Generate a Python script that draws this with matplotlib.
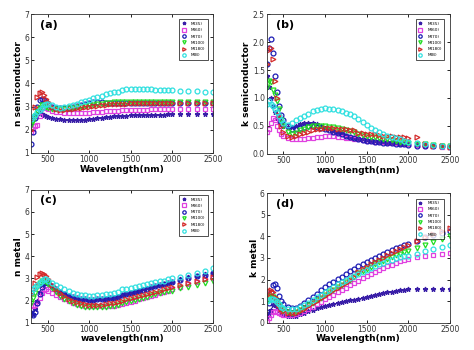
import matplotlib
matplotlib.use('Agg')
import matplotlib.pyplot as plt
import numpy as np

# wavelength grid (nm): dense part, part after the gap, sparse tail
wl_short = [300, 325, 350, 375, 400, 425, 450, 475, 500, 550, 600, 650, 700,
            750, 800, 850, 900, 950, 1000, 1050, 1100, 1150, 1200, 1250,
            1300, 1350]
wl_long = [1400, 1450, 1500, 1550, 1600, 1650, 1700, 1750, 1800, 1850, 1900,
           1950, 2000]
wl_tail = [2100, 2200, 2300, 2400, 2500]
wavelength = wl_short + wl_long + wl_tail

labels = ['M(35)', 'M(60)', 'M(70)', 'M(100)', 'M(180)', 'M(B)']

# (a) n semiconductor
a_m35 = [2.2, 2.45, 2.6, 2.7, 2.72, 2.7, 2.65, 2.6, 2.56, 2.5, 2.47, 2.45,
         2.43, 2.42, 2.42, 2.42, 2.43, 2.44, 2.46, 2.48, 2.5, 2.52, 2.54,
         2.56, 2.58, 2.59,
         2.6, 2.61, 2.62, 2.62, 2.63, 2.64, 2.64, 2.65, 2.65, 2.66, 2.66,
         2.67, 2.67,
         2.68, 2.68, 2.68, 2.68, 2.68]
a_m60 = [1.9, 2.05, 2.15, 2.2, 2.6, 2.95, 3.0, 2.95, 2.9, 2.82, 2.78, 2.75,
         2.73, 2.72, 2.72, 2.72, 2.72, 2.73, 2.74, 2.75, 2.77, 2.78, 2.8,
         2.81, 2.82, 2.83,
         2.84, 2.85, 2.85, 2.86, 2.86, 2.87, 2.87, 2.88, 2.88, 2.88, 2.89,
         2.89, 2.89,
         2.88, 2.88, 2.88, 2.88, 2.88]
a_m70 = [1.4, 1.9, 2.5, 3.0, 3.3, 3.35, 3.3, 3.2, 3.1, 3.0, 2.95, 2.93,
         2.93, 2.95, 2.98, 3.02, 3.07, 3.12, 3.17, 3.2, 3.2, 3.19, 3.17,
         3.16, 3.15, 3.15,
         3.15, 3.15, 3.15, 3.15, 3.15, 3.15, 3.15, 3.15, 3.15, 3.15, 3.15,
         3.15, 3.15,
         3.17, 3.17, 3.17, 3.17, 3.17]
a_m100 = [2.2, 2.4, 2.6, 2.8, 2.95, 3.05, 3.05, 3.0, 2.95, 2.9, 2.88, 2.88,
          2.9, 2.92, 2.95, 2.98, 3.0, 3.03, 3.06, 3.08, 3.1, 3.12, 3.14,
          3.16, 3.18, 3.2,
          3.22, 3.22, 3.22, 3.22, 3.22, 3.22, 3.22, 3.22, 3.22, 3.22, 3.22,
          3.22, 3.22,
          3.2, 3.2, 3.2, 3.2, 3.2]
a_m180 = [2.0, 2.5, 3.0, 3.4, 3.6, 3.62, 3.5, 3.35, 3.2, 3.0, 2.9, 2.87,
          2.87, 2.88, 2.9, 2.93, 2.96, 2.98, 3.0, 3.02, 3.04, 3.06, 3.08,
          3.1, 3.12, 3.13,
          3.13, 3.13, 3.14, 3.14, 3.14, 3.14, 3.14, 3.15, 3.15, 3.15, 3.15,
          3.15, 3.15,
          3.15, 3.15, 3.15, 3.15, 3.15]
a_mb = [2.45, 2.55, 2.65, 2.75, 2.85, 2.95, 3.05, 3.1, 3.12, 3.05, 2.98,
        2.96, 2.98, 3.02, 3.06, 3.12, 3.18, 3.24, 3.3, 3.36, 3.42, 3.48,
        3.53, 3.58, 3.62, 3.65,
        3.72, 3.74, 3.75, 3.75, 3.75, 3.75, 3.74, 3.74, 3.73, 3.72, 3.72,
        3.71, 3.7,
        3.68, 3.67, 3.66, 3.65, 3.65]

# (b) k semiconductor
b_m35 = [1.4, 1.2, 1.0, 0.85, 0.75, 0.65, 0.58, 0.53, 0.5, 0.48, 0.48, 0.5,
         0.53, 0.55, 0.56, 0.55, 0.53, 0.5, 0.47, 0.44, 0.41, 0.38, 0.35,
         0.33, 0.31, 0.29,
         0.27, 0.26, 0.25, 0.24, 0.23, 0.22, 0.21, 0.2, 0.19, 0.19, 0.18,
         0.17, 0.17,
         0.17, 0.16, 0.15, 0.14, 0.14]
b_m60 = [0.4, 0.45, 0.55, 0.65, 0.6, 0.5, 0.42, 0.36, 0.32, 0.28, 0.26,
         0.26, 0.26, 0.27, 0.28, 0.29, 0.3, 0.31, 0.32, 0.32, 0.32, 0.31,
         0.3, 0.29, 0.28, 0.27,
         0.26, 0.25, 0.24, 0.23, 0.22, 0.21, 0.21, 0.2, 0.19, 0.19, 0.18,
         0.18, 0.17,
         0.16, 0.15, 0.14, 0.13, 0.13]
b_m70 = [1.6, 1.9, 2.05, 1.8, 1.4, 1.1, 0.85, 0.7, 0.6, 0.5, 0.45, 0.45,
         0.47, 0.48, 0.5, 0.5, 0.48, 0.47, 0.45, 0.42, 0.4, 0.37, 0.35,
         0.32, 0.3, 0.28,
         0.26, 0.25, 0.24, 0.23, 0.22, 0.21, 0.2, 0.19, 0.19, 0.18, 0.17,
         0.17, 0.16,
         0.15, 0.15, 0.14, 0.14, 0.13]
b_m100 = [1.2, 1.3, 1.28, 1.15, 1.05, 0.95, 0.8, 0.6, 0.5, 0.4, 0.36, 0.38,
          0.42, 0.45, 0.48, 0.5, 0.5, 0.5, 0.5, 0.49, 0.48, 0.46, 0.44,
          0.42, 0.41, 0.4,
          0.36, 0.34, 0.33, 0.31, 0.3, 0.29, 0.27, 0.26, 0.25, 0.24, 0.22,
          0.21, 0.2,
          0.18, 0.17, 0.16, 0.15, 0.14]
b_m180 = [1.6, 1.85, 1.9, 1.7, 1.3, 1.0, 0.7, 0.5, 0.4, 0.32, 0.3, 0.32,
          0.35, 0.38, 0.4, 0.42, 0.44, 0.45, 0.46, 0.46, 0.46, 0.45, 0.45,
          0.44, 0.43, 0.42,
          0.38, 0.37, 0.36, 0.35, 0.35, 0.34, 0.33, 0.32, 0.32, 0.31, 0.3,
          0.3, 0.29,
          0.3, 0.17, 0.15, 0.14, 0.13]
b_mb = [0.9, 0.95, 0.9, 0.85, 0.8, 0.75, 0.68, 0.6, 0.55, 0.52, 0.55, 0.6,
        0.65, 0.68, 0.72, 0.76, 0.79, 0.81, 0.82, 0.81, 0.8, 0.78, 0.76,
        0.74, 0.72, 0.68,
        0.62, 0.57, 0.52, 0.47, 0.43, 0.39, 0.36, 0.33, 0.3, 0.28, 0.26,
        0.24, 0.22,
        0.2, 0.18, 0.16, 0.15, 0.14]

# (c) n metal
c_m35 = [1.5, 1.4, 1.6, 2.0, 2.4, 2.7, 2.85, 2.85, 2.8, 2.65, 2.5, 2.38,
         2.28, 2.2, 2.14, 2.1, 2.07, 2.05, 2.04, 2.04, 2.05, 2.06, 2.08,
         2.1, 2.12, 2.15,
         2.25, 2.3, 2.35, 2.4, 2.45, 2.5, 2.55, 2.6, 2.65, 2.7, 2.75, 2.8,
         2.85,
         2.95, 3.05, 3.12, 3.18, 3.25]
c_m60 = [1.8, 1.75, 1.8, 1.9, 2.1, 2.35, 2.48, 2.5, 2.45, 2.35, 2.25, 2.15,
         2.05, 1.97, 1.9, 1.85, 1.8, 1.77, 1.75, 1.74, 1.74, 1.74, 1.75,
         1.76, 1.77, 1.78,
         1.85, 1.9, 1.95, 2.0, 2.05, 2.1, 2.15, 2.2, 2.27, 2.33, 2.39,
         2.45, 2.5,
         2.6, 2.75, 2.85, 2.95, 3.0]
c_m70 = [1.4, 1.35, 1.5, 1.9, 2.3, 2.6, 2.8, 2.85, 2.8, 2.65, 2.5, 2.38,
         2.28, 2.2, 2.14, 2.1, 2.07, 2.05, 2.04, 2.04, 2.05, 2.06, 2.08,
         2.1, 2.12, 2.14,
         2.24, 2.29, 2.34, 2.39, 2.44, 2.49, 2.54, 2.59, 2.64, 2.69, 2.74,
         2.79, 2.84,
         2.93, 3.02, 3.1, 3.17, 3.22]
c_m100 = [1.9, 2.1, 2.35, 2.6, 2.8, 2.88, 2.9, 2.85, 2.75, 2.55, 2.38, 2.22,
          2.08, 1.97, 1.88, 1.81, 1.76, 1.72, 1.7, 1.69, 1.7, 1.71, 1.73,
          1.75, 1.77, 1.8,
          1.9, 1.95, 1.99, 2.03, 2.08, 2.13, 2.18, 2.23, 2.28, 2.33, 2.37,
          2.41, 2.45,
          2.55, 2.6, 2.7, 2.8, 2.9]
c_m180 = [2.3, 2.5, 2.8, 3.05, 3.18, 3.22, 3.2, 3.1, 2.95, 2.7, 2.5, 2.33,
          2.2, 2.09, 2.0, 1.93, 1.87, 1.83, 1.8, 1.79, 1.8, 1.82, 1.85,
          1.88, 1.91, 1.95,
          2.0, 2.05, 2.1, 2.15, 2.2, 2.25, 2.3, 2.35, 2.4, 2.45, 2.5, 2.55,
          2.6,
          2.7, 2.8, 2.9, 2.98, 3.05]
c_mb = [2.4, 2.5, 2.6, 2.7, 2.8, 2.88, 2.95, 2.95, 2.9, 2.8, 2.7, 2.6, 2.5,
        2.42, 2.35, 2.3, 2.26, 2.23, 2.22, 2.22, 2.23, 2.25, 2.28, 2.31,
        2.35, 2.4,
        2.5, 2.54, 2.58, 2.62, 2.66, 2.7, 2.74, 2.78, 2.82, 2.86, 2.9, 2.95,
        3.0,
        3.05, 3.15, 3.25, 3.35, 3.45]

# (d) k metal
d_m35 = [0.3, 0.45, 0.6, 0.8, 0.85, 0.75, 0.6, 0.45, 0.35, 0.3, 0.3, 0.33,
         0.38, 0.45, 0.52, 0.6, 0.67, 0.73, 0.78, 0.83, 0.88, 0.92, 0.96,
         1.0, 1.03, 1.06,
         1.12, 1.16, 1.2, 1.24, 1.28, 1.32, 1.36, 1.4, 1.44, 1.47, 1.5,
         1.53, 1.55,
         1.55, 1.56, 1.56, 1.56, 1.56]
d_m60 = [0.1, 0.2, 0.35, 0.5, 0.55, 0.5, 0.45, 0.4, 0.37, 0.35, 0.36, 0.4,
         0.47, 0.55, 0.65, 0.75, 0.86, 0.97, 1.08, 1.2, 1.3, 1.42, 1.52,
         1.63, 1.73, 1.83,
         1.95, 2.05, 2.15, 2.25, 2.35, 2.44, 2.53, 2.61, 2.69, 2.77, 2.84,
         2.9, 2.95,
         3.05, 3.1, 3.15, 3.2, 3.25]
d_m70 = [0.5, 0.9, 1.4, 1.75, 1.8, 1.6, 1.25, 1.0, 0.85, 0.72, 0.68, 0.7,
         0.78, 0.9, 1.05, 1.2, 1.35, 1.5, 1.65, 1.78, 1.9, 2.02, 2.14, 2.26,
         2.38, 2.48,
         2.62, 2.72, 2.82, 2.92, 3.02, 3.11, 3.2, 3.29, 3.38, 3.46, 3.53,
         3.6, 3.65,
         3.8, 3.95, 4.05, 4.15, 4.25]
d_m100 = [1.0, 1.2, 1.25, 1.2, 1.1, 0.95, 0.8, 0.65, 0.55, 0.48, 0.46, 0.5,
          0.58, 0.68, 0.8, 0.92, 1.04, 1.16, 1.28, 1.4, 1.52, 1.64, 1.76,
          1.88, 2.0, 2.12,
          2.3, 2.4, 2.5, 2.6, 2.7, 2.79, 2.88, 2.97, 3.05, 3.13, 3.2, 3.26,
          3.32,
          3.45, 3.6, 3.75, 3.9, 4.0]
d_m180 = [1.3, 1.45, 1.5, 1.4, 1.2, 1.0, 0.8, 0.62, 0.52, 0.45, 0.44, 0.47,
          0.55, 0.65, 0.77, 0.9, 1.02, 1.14, 1.26, 1.38, 1.5, 1.62, 1.74,
          1.86, 1.98, 2.1,
          2.35, 2.47, 2.58, 2.7, 2.81, 2.92, 3.02, 3.12, 3.22, 3.32, 3.42,
          3.5, 3.58,
          3.8, 3.95, 4.1, 4.25, 4.4]
d_mb = [1.0, 1.05, 1.1, 1.1, 1.05, 0.95, 0.85, 0.75, 0.68, 0.62, 0.62, 0.65,
        0.72, 0.82, 0.93, 1.05, 1.17, 1.29, 1.41, 1.53, 1.65, 1.77, 1.88,
        1.98, 2.08, 2.18,
        2.25, 2.35, 2.44, 2.53, 2.62, 2.7, 2.78, 2.85, 2.92, 2.98, 3.03,
        3.07, 3.1,
        3.2, 3.3, 3.4, 3.5, 3.6]

# marker / colour per series, matlab-ish
styles = [
    dict(marker='*', color='#3a1fa8', mfc='#3a1fa8'),
    dict(marker='s', color='#e040e0', mfc='none'),
    dict(marker='o', color='#1c1cb4', mfc='none'),
    dict(marker='v', color='#22dd22', mfc='none'),
    dict(marker='>', color='#d42a2a', mfc='none'),
    dict(marker='o', color='#30e0e0', mfc='none'),
]

panels = [
    ('(a)', [a_m35, a_m60, a_m70, a_m100, a_m180, a_mb], (1, 7),
     np.arange(1, 8, 1), 'n semiconductor', 'Wavelength(nm)'),
    ('(b)', [b_m35, b_m60, b_m70, b_m100, b_m180, b_mb], (0, 2.5),
     [0, 0.5, 1, 1.5, 2, 2.5], 'k semiconductor', 'wavelength(nm)'),
    ('(c)', [c_m35, c_m60, c_m70, c_m100, c_m180, c_mb], (1, 7),
     np.arange(1, 8, 1), 'n metal', 'wavelength(nm)'),
    ('(d)', [d_m35, d_m60, d_m70, d_m100, d_m180, d_mb], (0, 6),
     np.arange(0, 7, 1), 'k metal', 'Wavelength(nm)'),
]

# axes boxes in figure fraction [left, bottom, width, height]
boxes = [
    [0.066, 0.563, 0.384, 0.397],
    [0.563, 0.560, 0.386, 0.400],
    [0.066, 0.078, 0.384, 0.380],
    [0.563, 0.078, 0.386, 0.370],
]

fig = plt.figure(figsize=(4.74, 3.5), dpi=100)

for (tag, series, ylim, yticks, ylabel, xlabel), box in zip(panels, boxes):
    ax = fig.add_axes(box)
    for y, st, lab in zip(series, styles, labels):
        ax.plot(wavelength, y, linestyle='none', marker=st['marker'],
                color=st['color'], markerfacecolor=st['mfc'],
                markersize=3.5, markeredgewidth=0.9, label=lab)
    ax.set_xlim(300, 2500)
    ax.set_ylim(*ylim)
    ax.set_xticks([500, 1000, 1500, 2000, 2500])
    ax.set_yticks(yticks)
    ax.tick_params(direction='in', top=True, right=True, length=2.5,
                   width=0.6, labelsize=5.5, labelcolor='#333333',
                   pad=1.5)
    for sp in ax.spines.values():
        sp.set_linewidth(0.6)
        sp.set_color('#333333')
    ax.set_xlabel(xlabel, fontsize=6.5, fontweight='bold', labelpad=0.5)
    ax.set_ylabel(ylabel, fontsize=6.5, fontweight='bold', labelpad=1)
    ax.text(0.05, 0.92, tag, transform=ax.transAxes, fontsize=8,
            fontweight='bold', va='center', ha='left')
    leg = ax.legend(loc='upper right', fontsize=3.0, frameon=True,
                    fancybox=False, edgecolor='black', borderpad=0.6,
                    labelspacing=0.55, handlelength=1.0, handletextpad=1.2,
                    markerscale=0.7, borderaxespad=1.3)
    leg.get_frame().set_linewidth(0.6)

fig.savefig('out.png', dpi=100)
